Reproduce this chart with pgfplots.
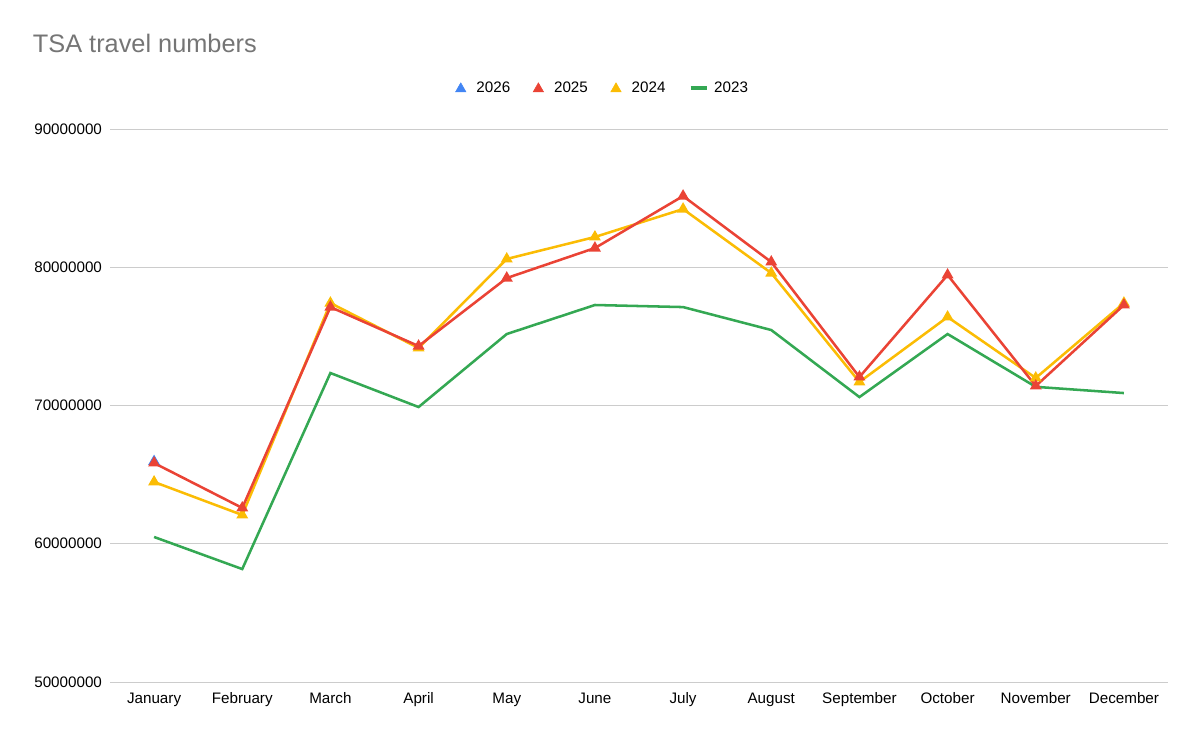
\documentclass[border=0pt]{standalone}
\usepackage{fontspec}
\setmainfont{Liberation Sans}
\usepackage{pgfplots}
\pgfplotsset{compat=1.18}
\definecolor{gblue}{HTML}{4285F4}
\definecolor{gred}{HTML}{EA4335}
\definecolor{gyellow}{HTML}{FBBC04}
\definecolor{ggreen}{HTML}{34A853}
\definecolor{ggrid}{HTML}{CCCCCC}
\definecolor{gtitle}{HTML}{757575}
\begin{document}
\begin{tikzpicture}
\useasboundingbox (0pt,0pt) rectangle (900pt,-552pt);
\node[anchor=west,text=gtitle,font=\fontsize{19}{22}\selectfont,inner sep=0pt] at (24.5pt,-32.5pt) {TSA travel numbers};
\begin{axis}[
  at={(82.5pt,-511.5pt)}, anchor=south west,
  scale only axis, width=793.5pt, height=414.75pt,
  xmin=-0.5, xmax=11.5, ymin=50000000, ymax=90000000,
  xtick={0,...,11},
  xticklabels={January,February,March,April,May,June,July,August,September,October,November,December},
  ytick={50000000,60000000,70000000,80000000,90000000},
  yticklabels={50000000,60000000,70000000,80000000,90000000},
  scaled y ticks=false,
  ymajorgrids, grid style={ggrid, line width=0.75pt},
  axis line style={draw=none},
  major tick length=0pt,
  tick label style={font=\fontsize{11.4}{13}\selectfont, text=black},
  xticklabel style={yshift=-4pt, text height=8.5pt, text depth=2.5pt},
  yticklabel style={xshift=-2.5pt},
  legend columns=-1,
  legend style={draw=none, fill=none, at={(0.5,1)}, anchor=center, yshift=30.75pt, xshift=-27pt,
    font=\fontsize{11.4}{13}\selectfont, /tikz/every even column/.append style={column sep=15pt}},
  legend cell align=left,
]
\addplot[ggreen, line width=1.9pt, forget plot] coordinates {
(0,60490000) (1,58170000) (2,72350000) (3,69890000) (4,75170000) (5,77270000)
(6,77120000) (7,75460000) (8,70610000) (9,75170000) (10,71350000) (11,70900000)};
\addplot[gyellow, line width=1.9pt, mark=triangle*, mark size=3.3pt, forget plot] coordinates {
(0,64470000) (1,62080000) (2,77410000) (3,74160000) (4,80600000) (5,82190000)
(6,84210000) (7,79580000) (8,71700000) (9,76400000) (10,71990000) (11,77410000)};
\addplot[gblue, line width=1.9pt, mark=triangle*, mark size=3.3pt, forget plot] coordinates {
(0,65950000)};
\addplot[gred, line width=1.9pt, mark=triangle*, mark size=3.3pt, forget plot] coordinates {
(0,65840000) (1,62590000) (2,77120000) (3,74300000) (4,79220000) (5,81390000)
(6,85150000) (7,80380000) (8,72060000) (9,79440000) (10,71410000) (11,77270000)};
\addlegendimage{legend image code/.code={\path[draw=none,fill=none] (-3.75pt,0pt) rectangle (9.75pt,0pt);\fill[gblue] (-3.9pt,-2.9pt) -- (3.9pt,-2.9pt) -- (0pt,3.9pt) -- cycle;}}
\addlegendentry{2026}
\addlegendimage{legend image code/.code={\path[draw=none,fill=none] (-3.75pt,0pt) rectangle (9.75pt,0pt);\fill[gred] (-3.9pt,-2.9pt) -- (3.9pt,-2.9pt) -- (0pt,3.9pt) -- cycle;}}
\addlegendentry{2025}
\addlegendimage{legend image code/.code={\path[draw=none,fill=none] (-3.75pt,0pt) rectangle (9.75pt,0pt);\fill[gyellow] (-3.9pt,-2.9pt) -- (3.9pt,-2.9pt) -- (0pt,3.9pt) -- cycle;}}
\addlegendentry{2024}
\addlegendimage{legend image code/.code={\path[draw=none,fill=none] (0pt,0pt) rectangle (15.75pt,0pt);\draw[ggreen, line width=3.6pt] (0pt,0pt) -- (12pt,0pt);}}
\addlegendentry{2023}
\end{axis}
\end{tikzpicture}
\end{document}
